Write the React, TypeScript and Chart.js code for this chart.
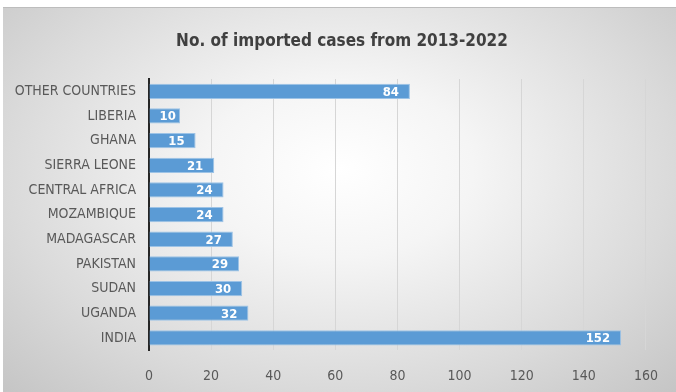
import React, { useEffect, useRef } from "react";
import { Chart, registerables } from "chart.js";

Chart.register(...registerables);

const categories = [
  "OTHER COUNTRIES",
  "LIBERIA",
  "GHANA",
  "SIERRA LEONE",
  "CENTRAL AFRICA",
  "MOZAMBIQUE",
  "MADAGASCAR",
  "PAKISTAN",
  "SUDAN",
  "UGANDA",
  "INDIA",
];
const cases = [84, 10, 15, 21, 24, 24, 27, 29, 30, 32, 152];
const xTicks = [0, 20, 40, 60, 80, 100, 120, 140, 160];
const titleText = "No. of imported cases from 2013-2022";

const FONT = "'DejaVu Sans Condensed', 'Liberation Sans', Arial, sans-serif";

const labelPlugin = {
  id: "insideEndLabels",
  afterDatasetsDraw(chart: any) {
    const ctx = chart.ctx;
    const meta = chart.getDatasetMeta(0);
    ctx.save();
    ctx.font = `bold 13px ${FONT}`;
    ctx.fillStyle = "#ffffff";
    ctx.textAlign = "right";
    ctx.textBaseline = "middle";
    meta.data.forEach((bar: any, i: number) => {
      const txt = String(cases[i]);
      const w = ctx.measureText(txt).width;
      let xr = bar.x - 11;
      if (xr - w < bar.base + 10) xr = bar.base + 10 + w;
      ctx.fillText(txt, xr, bar.y + 1);
    });
    ctx.restore();
  },
};

const titlePlugin = {
  id: "centerTitle",
  afterDraw(chart: any) {
    const ctx = chart.ctx;
    ctx.save();
    ctx.font = `bold 17px ${FONT}`;
    ctx.fillStyle = "#404040";
    ctx.textAlign = "center";
    ctx.textBaseline = "middle";
    ctx.fillText(titleText, 342, 42);
    ctx.restore();
  },
};

export default function App() {
  const ref = useRef<HTMLCanvasElement>(null);
  useEffect(() => {
    if (!ref.current) return;
    const chart = new Chart(ref.current, {
      type: "bar",
      data: {
        labels: categories,
        datasets: [
          {
            data: cases,
            backgroundColor: "#5b9bd5",
            borderColor: "#9dc3e6",
            borderWidth: 1,
            categoryPercentage: 1,
            barPercentage: 0.62,
          },
        ],
      },
      options: {
        indexAxis: "y",
        animation: false,
        responsive: false,
        layout: { padding: { left: 0, right: 25, top: 79, bottom: -11 } },
        plugins: {
          legend: { display: false },
          tooltip: { enabled: false },
          title: { display: false },
        },
        scales: {
          x: {
            min: 0,
            max: 160,
            afterBuildTicks: (scale: any) => {
              scale.ticks = xTicks.map((v) => ({ value: v }));
            },
            grid: { color: "#d6d6d6", drawTicks: false, lineWidth: 1 },
            border: { display: false },
            ticks: {
              color: "#595959",
              padding: 18,
              font: { family: FONT, size: 14 },
            },
          },
          y: {
            grid: { display: false, drawTicks: false },
            border: { display: true, color: "#262626", width: 2 },
            afterFit: (scale: any) => {
              scale.width = 149;
            },
            ticks: {
              color: "#595959",
              padding: 13,
              font: { family: FONT, size: 14 },
            },
          },
        },
      },
      plugins: [labelPlugin, titlePlugin],
    });
    return () => chart.destroy();
  }, []);

  return (
    <div
      style={{
        position: "fixed",
        left: 0,
        top: 0,
        width: 676,
        height: 392,
        background: "#ffffff",
        overflow: "hidden",
      }}
    >
      <div
        style={{
          position: "absolute",
          left: 3,
          top: 7,
          right: 0,
          bottom: 0,
          borderTop: "1px solid #bdbdbd",
          background:
            "radial-gradient(ellipse farthest-corner at 50% 42%, #ffffff 0%, #f5f5f5 28%, #dadada 70%, #c5c5c5 100%)",
        }}
      />
      <canvas
        ref={ref}
        width={676}
        height={392}
        style={{ position: "absolute", left: 0, top: 0, width: 676, height: 392 }}
      />
    </div>
  );
}
